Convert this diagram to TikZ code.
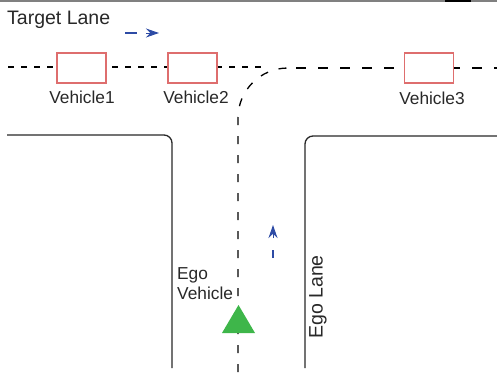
\documentclass[tikz,border=0pt]{standalone}
\usepackage{fontspec}
\setmainfont{Liberation Sans}
\usetikzlibrary{arrows.meta}
\definecolor{inkgray}{RGB}{40,40,40}
\definecolor{carred}{RGB}{222,110,110}
\definecolor{arrowblue}{RGB}{45,75,165}
\definecolor{egogreen}{RGB}{62,182,74}
\tikzset{
  road/.style={draw=inkgray, line width=1.3pt, rounded corners=8pt},
  lane/.style={draw=black, line width=1.3pt, dash pattern=on 8pt off 11pt},
  farlane/.style={draw=black, line width=1.3pt, dash pattern=on 10pt off 12pt},
  targetlane/.style={draw=black, line width=1.3pt, dash pattern=on 6pt off 7pt},
  car/.style={draw=carred, line width=1.1pt, fill=white, minimum width=49pt, minimum height=30pt, inner sep=0pt},
  biglabel/.style={text=inkgray, font=\fontsize{19.5}{22}\selectfont, inner sep=0pt},
  carlabel/.style={text=inkgray, font=\fontsize{17.3}{21}\selectfont, inner sep=0pt},
  dirdash/.style={draw=arrowblue, line width=1.1pt},
  dirtip/.style={draw=arrowblue, line width=1pt, -{Stealth[length=13pt,width=9pt]}},
  ego/.style={fill=egogreen, draw=none},
}
\begin{document}
\begin{tikzpicture}[x=1pt,y=-1pt]
  \useasboundingbox (0,0) rectangle (497,372);
  % frame line along the top edge
  \draw[gray, line width=1.4pt] (0,1) -- (497,1);
  \draw[black, line width=1.6pt] (445,1) -- (471,1);

  % road edges
  \draw[road] (7,135) -- (172,135) -- (172,368);
  \draw[road] (497,136) -- (305,136) -- (305,368);

  % target lane marking
  \draw[targetlane] (8,67) -- (263,67);

  % ego path: straight up, then turning right into the target lane
  \coordinate (turn) at (288,68);
  \draw[lane] (238,372) -- (238,118) arc[start angle=180, end angle=270, radius=50];
  \draw[farlane] (turn) ++(8,0) -- (497,68);

  % vehicles in the target lane
  \node[car] (v1) at (81.5,68) {};
  \node[car] (v2) at (192.5,68) {};
  \node[car] (v3) at (429,68) {};
  \node[carlabel] (l1) at (82,97) {Vehicle1};
  \node[carlabel] (l2) at (196,97) {Vehicle2};
  \node[carlabel] (l3) at (432,98) {Vehicle3};

  % lane names
  \node[biglabel, anchor=west] (tl) at (7,20) {Target Lane};
  \node[biglabel, rotate=90] (el) at (318,297) {Ego Lane};

  % driving directions
  \coordinate (ta) at (125,33);
  \coordinate (tb) at (137,33);
  \coordinate (tc) at (146,33);
  \coordinate (td) at (159,33);
  \draw[dirdash] (ta) -- (tb);
  \draw[dirtip] (tc) -- (td);
  \coordinate (ea) at (273,258);
  \coordinate (eb) at (273,250);
  \coordinate (ec) at (273,238);
  \coordinate (ed) at (273,225);
  \draw[dirdash] (ea) -- (eb);
  \draw[dirtip] (ec) -- (ed);

  % ego vehicle
  \fill[ego] (222,333) -- (255,333) -- (238.5,305) -- cycle;
  \node[carlabel, anchor=west, align=left] (egolabel) at (177,284) {Ego\\[-1pt]Vehicle};
\end{tikzpicture}
\end{document}
